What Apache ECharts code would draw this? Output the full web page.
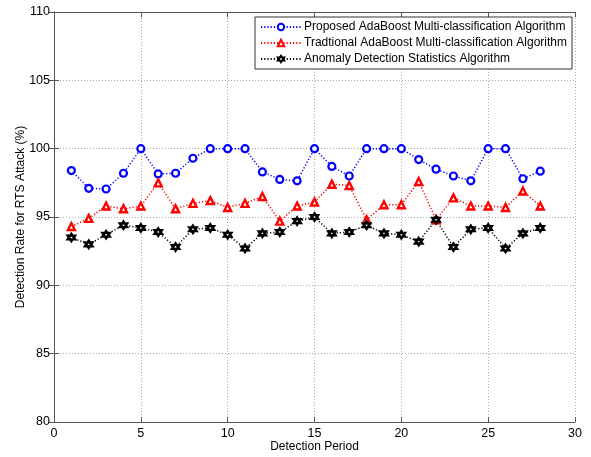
<!DOCTYPE html>
<html><head><meta charset="utf-8">
<script src="https://cdn.jsdelivr.net/npm/echarts@6/dist/echarts.min.js"></script>
<style>html,body{margin:0;padding:0;background:#fff}#c{width:591px;height:457px}</style>
</head><body><div id="c"></div>
<script>
const periods = [1,2,3,4,5,6,7,8,9,10,11,12,13,14,15,16,17,18,19,20,21,22,23,24,25,26,27,28];
const proposed = [98.4,97.1,97.05,98.2,100,98.15,98.2,99.3,100,100,100,98.3,97.75,97.65,100,98.7,98.0,100,100,100,99.2,98.5,98.0,97.65,100,100,97.8,98.35];
const traditional = [94.3,94.9,95.8,95.6,95.8,97.5,95.6,96.0,96.2,95.7,96.0,96.5,94.7,95.8,96.1,97.4,97.3,94.8,95.9,95.9,97.6,94.8,96.4,95.8,95.8,95.7,96.9,95.8];
const anomaly = [93.5,93.0,93.7,94.4,94.2,93.9,92.8,94.1,94.2,93.7,92.7,93.8,93.9,94.7,95.0,93.8,93.9,94.4,93.8,93.7,93.2,94.8,92.8,94.1,94.2,92.7,93.8,94.2];
const seriesNames = ['Proposed AdaBoost Multi-classification Algorithm','Tradtional AdaBoost Multi-classification Algorithm','Anomaly Detection Statistics Algorithm'];
const xTitle = 'Detection Period';
const yTitle = 'Detection Rate for RTS Attack (%)';

const hexagram = 'path://M50,0 L64.43,25 L93.3,25 L78.87,50 L93.3,75 L64.43,75 L50,100 L35.57,75 L6.7,75 L21.13,50 L6.7,25 L35.57,25 Z';
const font = 'Liberation Sans, Arial, sans-serif';
const axisCol = '#555';
const chart = echarts.init(document.getElementById('c'));
function pairs(v){ return periods.map((p,i)=>[p,v[i]]); }
const gridLine = {show:true, lineStyle:{color:'#aaa', type:[1,2], width:1}};
chart.setOption({
  animation:false,
  backgroundColor:'#fff',
  grid:{left:54, right:16, top:12, bottom:35, containLabel:false, outerBoundsMode:'none'},
  legend:{
    orient:'vertical', right:19, top:17, itemGap:4, itemWidth:40, itemHeight:8,
    backgroundColor:'#fff', borderColor:'#333', borderWidth:1, padding:[4,5,4,5],
    textStyle:{fontFamily:font, fontSize:12, color:'#000', padding:[0,0,0,-2]},
    data:seriesNames
  },
  xAxis:[{
    type:'value', min:0, max:30, interval:5,
    name:xTitle, nameLocation:'middle', nameGap:19, nameMoveOverlap:false,
    nameTextStyle:{fontFamily:font, fontSize:12, color:'#000'},
    axisLine:{show:true, lineStyle:{color:axisCol}},
    axisTick:{show:true, inside:true, length:5, lineStyle:{color:axisCol}},
    axisLabel:{fontFamily:font, fontSize:12.5, color:'#000', margin:5},
    splitLine:gridLine
  },{
    type:'value', min:0, max:30, interval:5, position:'top',
    axisLine:{show:true, lineStyle:{color:axisCol}},
    axisTick:{show:true, inside:true, length:5, lineStyle:{color:axisCol}},
    axisLabel:{show:false}, splitLine:{show:false}
  }],
  yAxis:[{
    type:'value', min:80, max:110, interval:5,
    name:yTitle, nameLocation:'middle', nameGap:27, nameMoveOverlap:false,
    nameTextStyle:{fontFamily:font, fontSize:12, color:'#000'},
    axisLine:{show:true, lineStyle:{color:axisCol}},
    axisTick:{show:true, inside:true, length:5, lineStyle:{color:axisCol}},
    axisLabel:{fontFamily:font, fontSize:12.5, color:'#000', margin:4},
    splitLine:gridLine
  },{
    type:'value', min:80, max:110, interval:5, position:'right',
    axisLine:{show:true, lineStyle:{color:axisCol}},
    axisTick:{show:true, inside:true, length:5, lineStyle:{color:axisCol}},
    axisLabel:{show:false}, splitLine:{show:false}
  }],
  series:[
    {name:seriesNames[0], type:'line', data:pairs(proposed), symbol:'circle', symbolSize:7,
     lineStyle:{color:'#0000ff', width:1.5, type:[1.2,2]},
     itemStyle:{color:'#fff', borderColor:'#0000ff', borderWidth:2.2}},
    {name:seriesNames[1], type:'line', data:pairs(traditional), symbol:'triangle', symbolSize:7,
     lineStyle:{color:'#ff0000', width:1.5, type:[1.2,2]},
     itemStyle:{color:'#fff', borderColor:'#ff0000', borderWidth:2.4}},
    {name:seriesNames[2], type:'line', data:pairs(anomaly), symbol:hexagram, symbolSize:7,
     lineStyle:{color:'#000', width:1.5, type:[1.2,2]},
     itemStyle:{color:'#fff', borderColor:'#000', borderWidth:2.6}}
  ]
});
</script></body></html>
